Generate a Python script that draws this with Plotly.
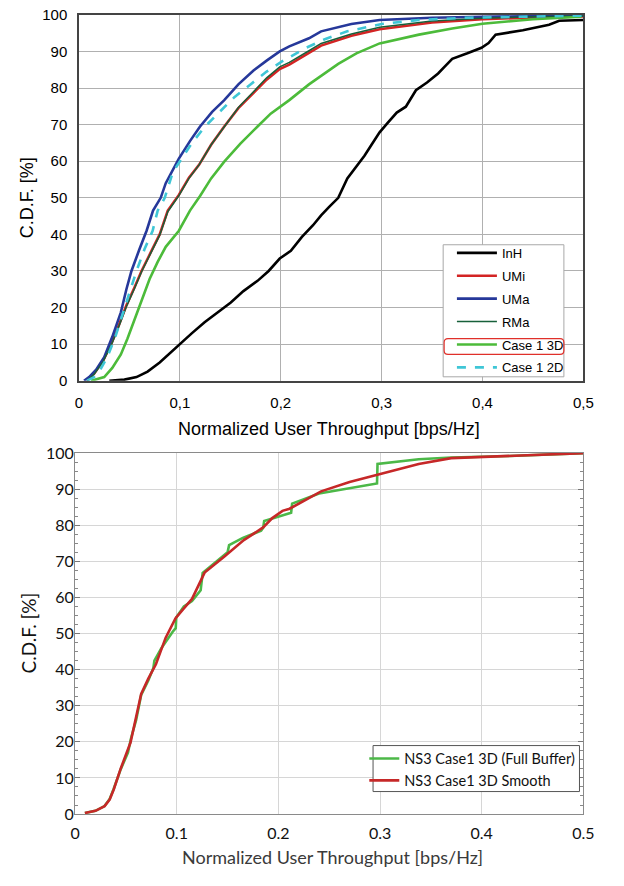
import plotly.graph_objects as go

# ---------------- Top chart data (x: normalized throughput, y: CDF %) ----------------
inh_x = [0.03, 0.045, 0.057, 0.068, 0.080, 0.090, 0.099, 0.112, 0.1245, 0.1375, 0.1505, 0.163, 0.177, 0.188,
         0.199, 0.21, 0.221, 0.232, 0.240, 0.248, 0.257, 0.266, 0.275, 0.283, 0.290, 0.298, 0.306, 0.315,
         0.324, 0.334, 0.345, 0.356, 0.363, 0.370, 0.385, 0.399, 0.406, 0.413, 0.44, 0.466, 0.476, 0.5]
inh_y = [0, 0.3, 1, 2.5, 5, 7.5, 9.9, 13, 16, 18.8, 21.4, 24.5, 27.3, 30,
         33.4, 35.5, 39.3, 42.5, 45.2, 47.5, 50, 55.3, 58.5, 61.5, 64.5, 67.9, 70.5, 73.3,
         74.9, 79.4, 81.5, 84, 86, 88, 89.5, 91, 92.3, 94.6, 95.8, 97.3, 98.4, 98.6]

umi_x = [0.008, 0.015, 0.024, 0.033, 0.040, 0.047, 0.055, 0.062, 0.071, 0.080, 0.088, 0.099, 0.109, 0.119,
         0.131, 0.144, 0.158, 0.173, 0.186, 0.199, 0.2085, 0.228, 0.240, 0.27, 0.298, 0.35, 0.40, 0.45, 0.5]
umi_y = [0, 1.9, 5.5, 10.7, 15.5, 20.6, 25.5, 30, 35, 40, 46.5, 50.8, 55.5, 59,
         64.5, 69.5, 74.5, 78.6, 82.3, 85.2, 86.4, 89.6, 91.6, 94.3, 96.1, 97.9, 98.8, 99.3, 99.6]

uma_x = [0.005, 0.010, 0.017, 0.025, 0.033, 0.0415, 0.047, 0.052, 0.060, 0.067, 0.0734, 0.081, 0.086, 0.099,
         0.110, 0.120, 0.132, 0.144, 0.158, 0.173, 0.186, 0.199, 0.2085, 0.228, 0.240, 0.27, 0.298, 0.35,
         0.40, 0.5]
uma_y = [0, 1, 3, 6.4, 12, 18.7, 25, 30, 36, 41, 46.5, 50, 54, 60.7,
         65.5, 69.5, 73.5, 76.7, 81, 84.8, 87.5, 90, 91.4, 93.6, 95.5, 97.5, 98.6, 99.2,
         99.5, 99.8]

rma_x = [0.008, 0.015, 0.024, 0.033, 0.040, 0.047, 0.055, 0.062, 0.071, 0.080, 0.088, 0.099, 0.109, 0.119,
         0.131, 0.144, 0.158, 0.173, 0.186, 0.199, 0.2085, 0.228, 0.240, 0.27, 0.298, 0.35, 0.40, 0.45, 0.5]
rma_y = [0, 1.8, 5.3, 10.4, 15.2, 20.3, 25.2, 29.8, 34.8, 39.8, 46.2, 50.6, 55.3, 59,
         64.5, 69.5, 74.7, 79, 82.8, 85.8, 87, 90.2, 92.2, 94.8, 96.6, 98.3, 99.1, 99.5, 99.7]

c3d_x = [0.012, 0.020, 0.025, 0.033, 0.0415, 0.048, 0.054, 0.062, 0.070, 0.078, 0.086, 0.099, 0.110, 0.120,
         0.131, 0.144, 0.160, 0.177, 0.19, 0.2085, 0.228, 0.257, 0.275, 0.298, 0.337, 0.37, 0.40, 0.45, 0.498]
c3d_y = [0, 0.5, 1, 3.5, 7.2, 11.5, 16, 22, 27.8, 32.5, 36.6, 41, 46.5, 50.5,
         55.3, 59.9, 64.8, 69.5, 73, 76.7, 81, 86.6, 89.5, 92.2, 94.6, 96.3, 97.6, 98.8, 99.5]

c2d_x = [0.008, 0.015, 0.022, 0.028, 0.036, 0.044, 0.050, 0.057, 0.065, 0.073, 0.078, 0.085, 0.093, 0.112,
         0.125, 0.138, 0.154, 0.170, 0.186, 0.202, 0.225, 0.245, 0.266, 0.30, 0.337, 0.382, 0.45, 0.5]
c2d_y = [0, 1, 3.5, 6.4, 12, 18.7, 24, 30, 36, 41, 46.5, 50, 57, 65,
         69.5, 73, 77.5, 81, 84.5, 87.4, 91, 93.5, 95.5, 97.5, 98.6, 99.2, 99.6, 99.8]

# ---------------- Bottom chart data ----------------
ns3_full_x = [0.0096, 0.02, 0.029, 0.034, 0.038, 0.045, 0.052, 0.055, 0.06, 0.065, 0.072, 0.077, 0.078, 0.085,
              0.096, 0.099, 0.0995, 0.107, 0.115, 0.122, 0.1235, 0.1255, 0.137, 0.148, 0.150, 0.1515, 0.165,
              0.183, 0.185, 0.186, 0.200, 0.2125, 0.2135, 0.24, 0.297, 0.2975, 0.338, 0.370, 0.428, 0.5]
ns3_full_y = [0.3, 0.9, 2.2, 4.2, 7, 12.5, 17, 21, 26, 33, 37, 40.5, 42.5, 46,
              50.5, 51.5, 54.5, 57.5, 59, 61.5, 62, 66.8, 69.5, 72, 72.5, 74.5, 76.5,
              78.5, 79.3, 81.2, 82.5, 83.5, 86, 88.8, 91.6, 97, 98.3, 98.8, 99.2, 100]

ns3_smooth_x = [0.0096, 0.02, 0.029, 0.034, 0.038, 0.045, 0.0545, 0.06, 0.065, 0.072, 0.0795, 0.089, 0.0987,
                0.107, 0.115, 0.1274, 0.137, 0.1466, 0.166, 0.185, 0.194, 0.204, 0.211, 0.230, 0.242, 0.27,
                0.297, 0.338, 0.370, 0.428, 0.5]
ns3_smooth_y = [0.3, 0.9, 2.2, 4, 6.8, 12.7, 19.8, 26.5, 33.3, 37.5, 41.5, 48.8, 54.2,
                57, 59.6, 66.9, 69, 71.3, 75.9, 79.4, 82, 84, 84.6, 87.5, 89.4, 92,
                94, 97, 98.6, 99.2, 100]

x_ticks = [0, 0.1, 0.2, 0.3, 0.4, 0.5]
top_x_labels = ["0", "0,1", "0,2", "0,3", "0,4", "0,5"]
bottom_x_labels = ["0", "0.1", "0.2", "0.3", "0.4", "0.5"]
y_ticks = [0, 10, 20, 30, 40, 50, 60, 70, 80, 90, 100]

# The page body keeps its default 8px margin, so the figure is sized to fit the window with it.
PAD = 8
W, H = 624 - 2 * PAD, 886 - 2 * PAD
TOP_FONT = "Liberation Sans, Arial, sans-serif"
BOT_FONT = "Lato, Open Sans, sans-serif"

fig = go.Figure()

top_series = [
    ("InH", inh_x, inh_y, "#000000", 2.6, "solid"),
    ("UMi", umi_x, umi_y, "#d32424", 2.6, "solid"),
    ("UMa", uma_x, uma_y, "#26389a", 2.6, "solid"),
    ("RMa", rma_x, rma_y, "#17603a", 1.5, "solid"),
    ("Case 1 3D", c3d_x, c3d_y, "#4cbb3a", 2.6, "solid"),
    ("Case 1 2D", c2d_x, c2d_y, "#3fc6d6", 2.6, "dash"),
]
for i, (name, xs, ys, col, w, dash) in enumerate(top_series):
    fig.add_trace(go.Scatter(x=xs, y=ys, mode="lines", name=name, xaxis="x", yaxis="y",
                             line=dict(color=col, width=w, dash=dash),
                             legend="legend", legendgroup="g%d" % i))

fig.add_trace(go.Scatter(x=ns3_full_x, y=ns3_full_y, mode="lines", name="NS3 Case1 3D (Full Buffer)",
                         xaxis="x2", yaxis="y2", line=dict(color="#4cb848", width=2.6), legend="legend2"))
fig.add_trace(go.Scatter(x=ns3_smooth_x, y=ns3_smooth_y, mode="lines", name="NS3 Case1 3D Smooth",
                         xaxis="x2", yaxis="y2", line=dict(color="#c62828", width=2.6), legend="legend2"))

def px_x(p):
    return (p - PAD) / W

def px_y(p):
    return 1 - (p - PAD) / H

fig.update_layout(
    width=W, height=H, margin=dict(l=0, r=0, t=0, b=0),
    paper_bgcolor="white", plot_bgcolor="white",
    xaxis=dict(domain=[px_x(84), px_x(602)], range=[0, 0.5], tickvals=x_ticks, ticktext=top_x_labels,
               showgrid=True, gridcolor="#b0b0b0", gridwidth=1, zeroline=False,
               showline=True, linecolor="#444444", linewidth=1.5, mirror=True, ticks="",
               tickfont=dict(family=TOP_FONT, size=15, color="#000"), anchor="y",
               ticklabelstandoff=8),
    yaxis=dict(domain=[px_y(387), px_y(13)], range=[0, 100], tickvals=y_ticks,
               showgrid=True, gridcolor="#b0b0b0", gridwidth=1, zeroline=False,
               showline=True, linecolor="#444444", linewidth=1.5, mirror=True, ticks="",
               tickfont=dict(family=TOP_FONT, size=15, color="#000"), anchor="x",
               ticklabelstandoff=7),
    xaxis2=dict(domain=[px_x(80), px_x(602)], range=[0, 0.5], tickvals=x_ticks, ticktext=bottom_x_labels,
                showgrid=True, gridcolor="#d6d6d6", gridwidth=1, zeroline=False,
                showline=True, linecolor="#8a8a8a", linewidth=1, mirror=True, ticks="",
                tickfont=dict(family=BOT_FONT, size=16, color="#111"), anchor="y2",
                ticklabelstandoff=5),
    yaxis2=dict(domain=[px_y(830), px_y(461)], range=[0, 100], tickvals=y_ticks,
                showgrid=True, gridcolor="#d6d6d6", gridwidth=1, zeroline=False,
                showline=True, linecolor="#8a8a8a", linewidth=1, mirror="allticks",
                ticks="inside", ticklen=5, tickcolor="#777",
                minor=dict(ticks="inside", ticklen=3, dtick=2.5, tickcolor="#888", showgrid=False),
                tickfont=dict(family=BOT_FONT, size=16, color="#111"), anchor="x2",
                ticklabelstandoff=-3),
    legend=dict(x=px_x(467), y=px_y(241), xanchor="left", yanchor="top",
                bgcolor="rgba(0,0,0,0)", borderwidth=0,
                font=dict(family=TOP_FONT, size=13, color="#000"),
                tracegroupgap=3, itemwidth=40),
    legend2=dict(x=px_x(377), y=px_y(757), xanchor="left", yanchor="top",
                 bgcolor="rgba(0,0,0,0)", borderwidth=0,
                 font=dict(family=BOT_FONT, size=14.5, color="#111"), itemwidth=30,
                 tracegroupgap=0),
    showlegend=True,
)

# Legend boxes (drawn as shapes so the highlight can sit on top of the background)
fig.add_shape(type="rect", xref="paper", yref="paper", x0=px_x(458), x1=px_x(582), y0=px_y(383), y1=px_y(248),
              fillcolor="white", line=dict(color="#a8a8a8", width=1), layer="above")
fig.add_shape(type="rect", xref="paper", yref="paper", x0=px_x(386), x1=px_x(598), y0=px_y(807), y1=px_y(760),
              fillcolor="white", line=dict(color="#555555", width=1), layer="above")

# Red rounded highlight box around "Case 1 3D" legend entry
x0, x1 = px_x(459), px_x(582)
y0, y1 = px_y(360), px_y(344)
rx, ry = 4 / W, 4 / H
path = (f"M {x0+rx},{y0} L {x1-rx},{y0} Q {x1},{y0} {x1},{y0+ry} L {x1},{y1-ry} Q {x1},{y1} {x1-rx},{y1} "
        f"L {x0+rx},{y1} Q {x0},{y1} {x0},{y1-ry} L {x0},{y0+ry} Q {x0},{y0} {x0+rx},{y0} Z")
fig.add_shape(type="path", path=path, xref="paper", yref="paper",
              line=dict(color="#e0302a", width=1.2), layer="above")

# Axis titles
def title(text, x, y, font, angle=0):
    fig.add_annotation(text=text, xref="paper", yref="paper", x=px_x(x), y=px_y(y),
                       xanchor="center", yanchor="middle", showarrow=False, textangle=angle, font=font)

title("Normalized User Throughput [bps/Hz]", 341, 436, dict(family=TOP_FONT, size=18, color="#000"))
title("C.D.F. [%]", 30, 200, dict(family=TOP_FONT, size=18, color="#000"), -90)
title("Normalized User Throughput [bps/Hz]", 344, 874, dict(family=BOT_FONT, size=18, color="#3a3a3a"))
title("C.D.F. [%]", 32, 645, dict(family=BOT_FONT, size=19, color="#111"), -90)

fig.write_html("out.html")
